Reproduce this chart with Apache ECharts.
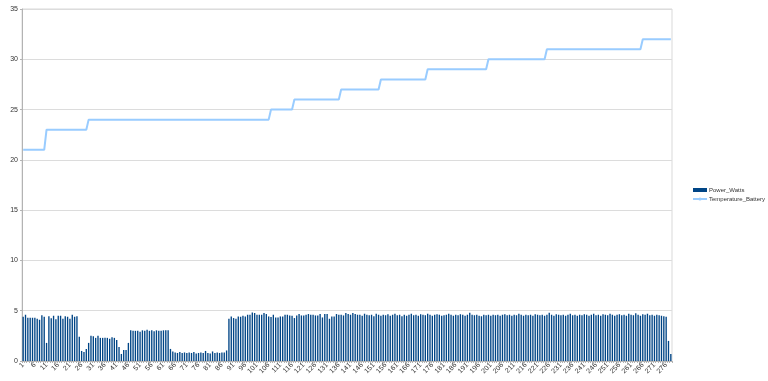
<!DOCTYPE html>
<html>
<head>
<meta charset="utf-8">
<script src="https://cdn.jsdelivr.net/npm/echarts@6/dist/echarts.min.js"></script>
<style>
html,body{margin:0;padding:0;background:#fff;}
#chart{width:768px;height:381px;}
</style>
</head>
<body>
<div id="chart"></div>
<script>
// ---- data ----
var seriesNames = ['Power_Watts', 'Temperature_Battery'];

var categoryCount = 278;
var categories = [];
for (var i = 1; i <= categoryCount; i++) categories.push(String(i));

var powerWatts = [
  4.4, 4.6, 4.3, 4.3, 4.3, 4.3, 4.2, 4.1, 4.55, 4.4,
  1.8,
  4.45, 4.25, 4.5, 4.15, 4.5, 4.5, 4.2, 4.45, 4.4, 4.2, 4.6, 4.4, 4.45,
  2.4,
  1.0, 0.9, 1.2, 1.8,
  2.5, 2.45, 2.3, 2.5, 2.3, 2.3, 2.3, 2.3, 2.2, 2.35, 2.3, 2.1,
  1.4, 0.7, 1.1, 1.1, 1.8,
  3.05, 3.0, 3.0, 3.0, 2.9, 3.05, 3.0, 3.1, 3.0, 3.05, 2.95, 3.05, 3.0, 3.0, 3.05, 3.05, 3.05,
  1.2,
  0.95, 0.85, 0.8, 0.9, 0.8, 0.85, 0.8, 0.85, 0.8, 0.9,
  0.75, 0.8, 0.85, 0.8, 1.0, 0.8, 0.75, 0.95, 0.8, 0.85,
  0.8, 0.85, 0.85,
  1.05,
  4.2, 4.43, 4.27, 4.2, 4.43, 4.4, 4.5, 4.43, 4.6, 4.6,
  4.83, 4.77, 4.6, 4.6, 4.6, 4.77, 4.67, 4.43, 4.37, 4.6,
  4.33, 4.33, 4.43, 4.43, 4.6, 4.6, 4.53, 4.5, 4.27, 4.53,
  4.67, 4.53, 4.53, 4.6, 4.67, 4.6, 4.6, 4.53, 4.53, 4.67,
  4.33, 4.67, 4.67, 4.2, 4.43, 4.43, 4.67, 4.6, 4.6, 4.53,
  4.77, 4.67, 4.6, 4.77, 4.67, 4.6,
  4.6, 4.5, 4.7, 4.6, 4.55, 4.6, 4.45, 4.7, 4.6, 4.5, 4.6, 4.55, 4.65, 4.5, 4.6, 4.7, 4.55, 4.6, 4.45, 4.6,
  4.5, 4.6, 4.7, 4.55, 4.6, 4.5, 4.65, 4.6, 4.55, 4.7, 4.6, 4.5, 4.6, 4.65, 4.6, 4.5, 4.55, 4.6, 4.7, 4.6,
  4.5, 4.6, 4.55, 4.65, 4.6, 4.5, 4.6, 4.8, 4.6, 4.55, 4.6, 4.5, 4.45, 4.6, 4.55, 4.6, 4.5, 4.6, 4.55, 4.6,
  4.5, 4.6, 4.65, 4.55, 4.6, 4.5, 4.6, 4.55, 4.7, 4.6, 4.5, 4.6, 4.55, 4.6, 4.5, 4.65, 4.6, 4.55, 4.6, 4.5,
  4.6, 4.8, 4.6, 4.5, 4.65, 4.6, 4.55, 4.6, 4.5, 4.6, 4.7, 4.55, 4.6, 4.5, 4.6, 4.55, 4.65, 4.6, 4.5, 4.6,
  4.7, 4.55, 4.6, 4.5, 4.65, 4.6, 4.55, 4.7, 4.6, 4.5, 4.6, 4.65, 4.55, 4.6, 4.5, 4.7, 4.6, 4.55, 4.75, 4.6,
  4.5, 4.65, 4.6, 4.7, 4.55, 4.6, 4.5, 4.6, 4.55, 4.5, 4.45, 4.4,
  2.0, 0.7
];

var temperatureBattery = [
  21,21,21,21,21,21,21,21,21,21, 23,23,23,23,23,23,23,23,23,23,
  23,23,23,23,23,23,23,23, 24,24,24,24,24,24,24,24,24,24,24,24,
  24,24,24,24,24,24,24,24,24,24,24,24,24,24,24,24,24,24,24,24,
  24,24,24,24,24,24,24,24,24,24,24,24,24,24,24,24,24,24,24,24,
  24,24,24,24,24,24,24,24,24,24,24,24,24,24,24,24,24,24,24,24,
  24,24,24,24,24,24, 25,25,25,25,25,25,25,25,25,25, 26,26,26,26,
  26,26,26,26,26,26,26,26,26,26,26,26,26,26,26,26, 27,27,27,27,
  27,27,27,27,27,27,27,27,27,27,27,27,27, 28,28,28,28,28,28,28,
  28,28,28,28,28,28,28,28,28,28,28,28,28, 29,29,29,29,29,29,29,
  29,29,29,29,29,29,29,29,29,29,29,29,29,29,29,29,29,29,29, 30,
  30,30,30,30,30,30,30,30,30,30,30,30,30,30,30,30,30,30,30,30,
  30,30,30,30, 31,31,31,31,31,31,31,31,31,31,31,31,31,31,31,31,
  31,31,31,31,31,31,31,31,31,31,31,31,31,31,31,31,31,31,31,31,
  31,31,31,31,31, 32,32,32,32,32,32,32,32,32,32,32,32,32
];

var yMin = 0, yMax = 35, yInterval = 5;

// ---- chart ----
var chart = echarts.init(document.getElementById('chart'), null, {renderer: 'canvas'});
var fontFamily = '"Liberation Sans", Arial, sans-serif';
chart.setOption({
  animation: false,
  backgroundColor: '#ffffff',
  textStyle: {fontFamily: fontFamily},
  grid: {
    left: 22, right: 96, top: 9, bottom: 20,
    containLabel: false,
    show: true, borderColor: '#d9d9d9', borderWidth: 1
  },
  legend: {
    orient: 'vertical',
    left: 687, top: 182,
    padding: 5,
    itemWidth: 14, itemHeight: 4, itemGap: 3,
    textStyle: {fontSize: 6, color: '#333', fontFamily: fontFamily, padding: [0, 0, 0, -3]},
    data: [
      {name: seriesNames[0], icon: 'rect'},
      {name: seriesNames[1]}
    ]
  },
  xAxis: {
    type: 'category',
    data: categories,
    boundaryGap: true,
    axisLine: {show: true, lineStyle: {color: '#b3b3b3', width: 1}},
    axisTick: {show: true, interval: 0, length: 2, lineStyle: {color: '#b3b3b3'}},
    axisLabel: {interval: 4, rotate: 45, fontSize: 7, color: '#333', margin: 3, fontFamily: fontFamily},
    splitLine: {show: false}
  },
  yAxis: {
    type: 'value',
    min: yMin, max: yMax, interval: yInterval,
    axisLine: {show: true, lineStyle: {color: '#b3b3b3', width: 1}},
    axisTick: {show: true, length: 2, lineStyle: {color: '#b3b3b3'}},
    axisLabel: {fontSize: 7, color: '#333', margin: 4, fontFamily: fontFamily},
    splitLine: {show: true, lineStyle: {color: '#dcdcdc', width: 1}}
  },
  series: [
    {
      name: seriesNames[0],
      type: 'bar',
      data: powerWatts,
      barWidth: '58%',
      itemStyle: {color: '#004586'},
      z: 2
    },
    {
      name: seriesNames[1],
      type: 'line',
      data: temperatureBattery,
      symbol: 'none',
      showSymbol: false,
      lineStyle: {color: '#99ccff', width: 2},
      itemStyle: {color: '#99ccff'},
      z: 3
    }
  ]
});
</script>
</body>
</html>
